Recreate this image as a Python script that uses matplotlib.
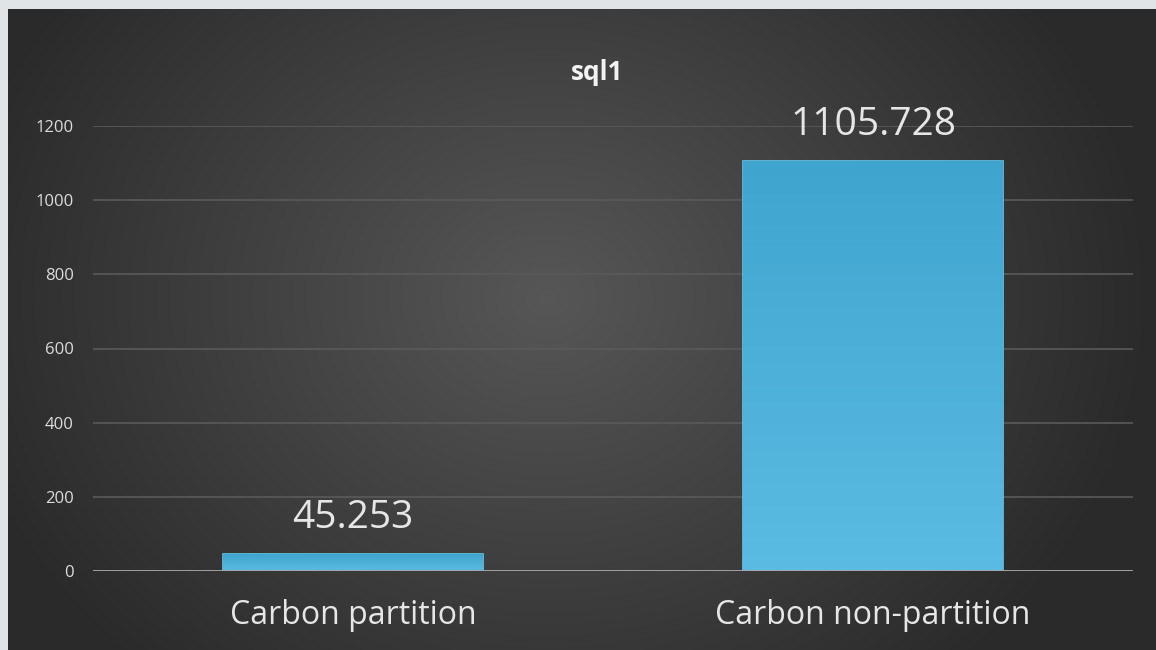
import matplotlib
matplotlib.use("Agg")
import matplotlib.pyplot as plt
import numpy as np

categories = ["Carbon partition", "Carbon non-partition"]
values = [45.253, 1105.728]
value_labels = ["45.253", "1105.728"]
yticks = [0, 200, 400, 600, 800, 1000, 1200]
title = "sql1"

W, H = 1156, 650
fig = plt.figure(figsize=(W / 100, H / 100), dpi=100)
fig.patch.set_facecolor("#e1e4e6")

# dark radial background, offset to leave the light frame on left/top
bg = fig.add_axes([8 / W, 0, 1 - 8 / W, 1 - 9 / H])
yy, xx = np.mgrid[0:1:300j, 0:1:500j]
r = np.sqrt(((xx - 0.47) * 1.5) ** 2 + ((yy - 0.55) * 1.0) ** 2)
shade = np.clip(0.34 - 0.22 * r, 0.165, 0.34)
bg.imshow(np.dstack([shade] * 3), aspect="auto", extent=[0, 1, 0, 1], origin="lower")
bg.axis("off")

ax = fig.add_axes([93 / W, 79 / H, 1040 / W, 445 / H])
ax.patch.set_alpha(0)
x = np.arange(len(categories))
bars = ax.bar(x, values, width=0.5, color="#44aad5", edgecolor="#66c6ea",
              linewidth=1.2, zorder=3)

# soft vertical gradient inside each bar
grad = np.linspace(0, 1, 100).reshape(-1, 1)
cmap = matplotlib.colors.LinearSegmentedColormap.from_list("b", ["#5bbbe2", "#3fa5cf"])
for b in bars:
    im = ax.imshow(grad, cmap=cmap, aspect="auto", origin="lower", zorder=3.5,
                   extent=[b.get_x(), b.get_x() + b.get_width(), 0, b.get_height()])
    im.set_clip_path(b)

for xi, v, lab in zip(x, values, value_labels):
    ax.annotate(lab, (xi, v), xytext=(0, 19), textcoords="offset points",
                ha="center", va="baseline", color="#e6e6e6",
                fontsize=28, family="Open Sans", zorder=5)

ax.set_xlim(-0.5, 1.5)
ax.set_ylim(0, 1200)
ax.set_yticks(yticks)
ax.set_yticklabels([str(t) for t in yticks], family="Open Sans", fontsize=12, color="#dcdcdc")
ax.set_xticks(x)
ax.set_xticklabels(categories, family="Open Sans", fontsize=23, color="#e6e6e6")
ax.tick_params(axis="both", length=0)
ax.tick_params(axis="y", pad=14)
ax.tick_params(axis="x", pad=20)
ax.grid(axis="y", color="#5a5a5a", linewidth=1.2, zorder=0)
ax.axhline(0, color="#a6a6a6", linewidth=2, zorder=4)
for s in ax.spines.values():
    s.set_visible(False)

fig.text(597 / W, 1 - 72 / H, title, ha="center", va="center", color="#f2f2f2",
         fontsize=19, fontweight="bold", family="Open Sans")

fig.savefig("out.png", dpi=100, facecolor=fig.get_facecolor())
